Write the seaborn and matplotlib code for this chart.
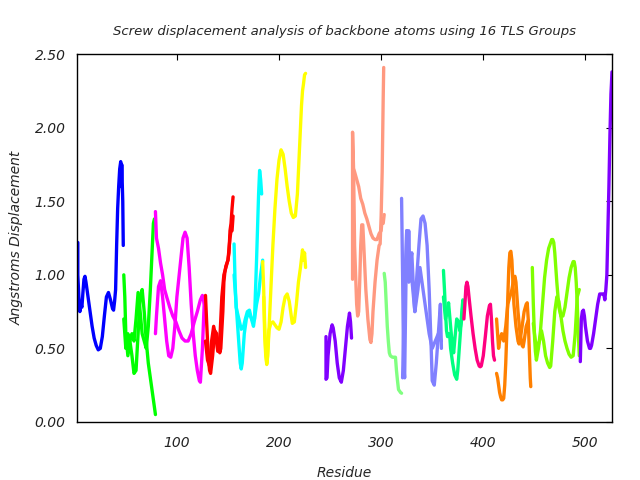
import numpy as np
import pandas as pd
import matplotlib
matplotlib.use("Agg")
import matplotlib.pyplot as plt
import seaborn as sns

# ---- data: (group colour, residue list, displacement list) per trace ----
blue_x = [3, 3, 4, 5, 6, 7, 8, 9, 10, 11, 13, 15, 17, 19, 21, 23, 25, 27, 29, 31, 33, 35, 37, 38, 39, 40, 41, 42, 43, 44, 45, 45.5, 46, 47, 47.5]
blue_y = [1.22, 1.0, 0.85, 0.75, 0.8, 0.78, 0.88, 0.97, 0.99, 0.95, 0.85, 0.75, 0.65, 0.57, 0.52, 0.49, 0.5, 0.58, 0.72, 0.85, 0.88, 0.83, 0.77, 0.76, 0.82, 0.9, 1.2, 1.45, 1.6, 1.72, 1.77, 1.6, 1.75, 1.5, 1.2]

green_a_x = [48, 49, 50, 52, 54, 56, 58, 60, 62, 64, 66, 68, 70, 72, 74, 76, 78, 79]
green_a_y = [1.0, 0.85, 0.6, 0.45, 0.55, 0.45, 0.33, 0.35, 0.6, 0.85, 0.9, 0.75, 0.55, 0.4, 0.3, 0.2, 0.1, 0.05]
green_b_x = [48, 50, 52, 54, 56, 58, 60, 62, 64, 66, 68, 70, 72, 74, 76, 77, 78]
green_b_y = [0.7, 0.5, 0.6, 0.55, 0.6, 0.55, 0.7, 0.88, 0.75, 0.6, 0.55, 0.5, 0.65, 0.9, 1.2, 1.35, 1.38]

magenta_a_x = [79, 80, 82, 84, 86, 88, 90, 93, 96, 99, 102, 105, 108, 111, 114, 117, 120, 123, 125, 127]
magenta_a_y = [1.43, 1.25, 1.18, 1.08, 1.0, 0.9, 0.85, 0.78, 0.72, 0.68, 0.62, 0.57, 0.55, 0.55, 0.6, 0.68, 0.75, 0.83, 0.86, 0.8]
magenta_b_x = [79, 80, 82, 84, 86, 88, 90, 92, 94, 96, 98, 100, 103, 106, 108, 110, 112, 114, 116, 118, 120, 122, 123, 125, 127]
magenta_b_y = [0.6, 0.72, 0.92, 0.96, 0.85, 0.7, 0.55, 0.45, 0.44, 0.5, 0.65, 0.85, 1.05, 1.25, 1.29, 1.25, 1.05, 0.8, 0.6, 0.45, 0.35, 0.28, 0.27, 0.5, 0.85]

red_a_x = [128, 129, 130, 131, 132, 133, 135, 137, 139, 141, 142, 143, 145, 146, 147, 148, 149, 150, 151, 152, 153, 154, 155]
red_a_y = [0.86, 0.7, 0.55, 0.42, 0.35, 0.33, 0.45, 0.62, 0.6, 0.5, 0.47, 0.5, 0.75, 0.95, 1.02, 1.06, 1.08, 1.1, 1.15, 1.3, 1.35, 1.45, 1.53]
red_b_x = [128, 130, 132, 134, 136, 138, 140, 142, 144, 146, 148, 150, 152, 153, 154, 155]
red_b_y = [0.55, 0.42, 0.38, 0.55, 0.65, 0.58, 0.48, 0.55, 0.85, 1.0, 1.05, 1.1, 1.25, 1.3, 1.3, 1.4]

cyan_a_x = [156, 157, 158, 160, 162, 163, 165, 167, 169, 171, 173, 175, 176, 178, 180, 181, 182, 183]
cyan_a_y = [1.21, 0.95, 0.78, 0.72, 0.66, 0.63, 0.64, 0.7, 0.75, 0.76, 0.7, 0.65, 0.7, 1.1, 1.55, 1.71, 1.65, 1.55]
cyan_b_x = [156, 158, 160, 162, 163, 164, 166, 168, 170, 172, 174, 176, 178, 180, 182, 184]
cyan_b_y = [1.0, 0.8, 0.6, 0.4, 0.36, 0.4, 0.6, 0.7, 0.74, 0.72, 0.69, 0.7, 0.8, 0.87, 1.0, 1.1]

yellow_a_x = [184, 185, 186, 187, 188, 189, 190, 192, 194, 196, 198, 200, 202, 204, 206, 208, 210, 212, 214, 216, 218, 219, 220, 221, 222, 223, 224, 225, 226]
yellow_a_y = [1.09, 0.9, 0.65, 0.48, 0.4, 0.45, 0.6, 0.9, 1.2, 1.45, 1.65, 1.78, 1.85, 1.82, 1.72, 1.6, 1.5, 1.42, 1.39, 1.4, 1.55, 1.7, 1.85, 2.0, 2.15, 2.25, 2.3, 2.36, 2.37]
yellow_b_x = [185, 186, 187, 188, 189, 190, 192, 194, 196, 198, 200, 202, 204, 206, 208, 210, 212, 213, 215, 217, 219, 221, 223, 224, 225, 226]
yellow_b_y = [0.85, 0.58, 0.45, 0.39, 0.5, 0.62, 0.67, 0.68, 0.66, 0.64, 0.63, 0.68, 0.78, 0.85, 0.87, 0.82, 0.72, 0.67, 0.68, 0.8, 0.95, 1.05, 1.17, 1.1, 1.15, 1.05]

purple_x = [246, 246, 247, 248, 250, 252, 253, 255, 257, 259, 261, 263, 265, 267, 269, 270, 271]
purple_y = [0.58, 0.29, 0.3, 0.45, 0.6, 0.66, 0.64, 0.55, 0.4, 0.3, 0.27, 0.35, 0.5, 0.65, 0.74, 0.68, 0.57]

salmon_a_x = [272, 272, 273, 274, 276, 278, 280, 282, 284, 286, 288, 290, 292, 294, 296, 298, 300, 301, 302, 303]
salmon_a_y = [0.97, 1.97, 1.72, 1.7, 1.65, 1.6, 1.52, 1.48, 1.42, 1.38, 1.33, 1.28, 1.25, 1.24, 1.24, 1.28, 1.3, 1.38, 1.35, 1.41]
salmon_b_x = [273, 274, 275, 276, 277, 278, 279, 280, 281, 282, 283, 285, 287, 289, 290, 291, 292, 294, 296, 298, 299, 300, 301, 302, 302.5]
salmon_b_y = [1.72, 1.2, 1.0, 0.8, 0.72, 0.75, 0.95, 1.2, 1.34, 1.34, 1.2, 0.9, 0.7, 0.56, 0.54, 0.6, 0.75, 0.95, 1.1, 1.2, 1.21, 1.4, 1.7, 2.2, 2.41]

lgreen_x = [303, 304, 305, 306, 307, 308, 309, 311, 313, 314, 315, 316, 317, 318, 319, 320]
lgreen_y = [1.01, 0.95, 0.8, 0.65, 0.55, 0.47, 0.45, 0.44, 0.44, 0.44, 0.35, 0.28, 0.22, 0.21, 0.2, 0.195]

peri_a_x = [320, 321, 322, 323, 325, 326, 327, 328, 330, 332, 333, 335, 337, 339, 341, 343, 345, 347, 349, 350, 352, 354, 356, 358, 359]
peri_a_y = [1.52, 1.0, 0.4, 0.3, 1.3, 1.0, 1.3, 1.05, 1.15, 0.85, 0.75, 1.0, 1.2, 1.38, 1.4, 1.35, 1.2, 0.9, 0.5, 0.28, 0.25, 0.4, 0.6, 0.8, 0.5]
peri_b_x = [321, 323, 325, 327, 329, 331, 333, 336, 338, 341, 344, 347, 350, 353, 356, 359]
peri_b_y = [0.3, 0.9, 1.3, 0.95, 1.05, 0.9, 0.75, 0.9, 1.05, 0.9, 0.75, 0.6, 0.5, 0.55, 0.6, 0.55]

spring_a_x = [361, 362, 363, 364, 365, 366, 367, 368, 370, 372, 374, 375, 377, 379, 380, 381]
spring_a_y = [1.03, 0.9, 0.75, 0.62, 0.58, 0.6, 0.6, 0.5, 0.4, 0.32, 0.29, 0.35, 0.55, 0.75, 0.83, 0.8]
spring_b_x = [361, 363, 365, 366, 368, 370, 371, 372, 374, 376, 377, 379, 380]
spring_b_y = [0.85, 0.7, 0.75, 0.81, 0.65, 0.5, 0.47, 0.55, 0.7, 0.68, 0.62, 0.7, 0.8]

pink_x = [381, 382, 383, 384, 385, 386, 388, 390, 392, 394, 396, 397, 398, 400, 402, 404, 406, 407, 408, 409, 410, 411]
pink_y = [0.7, 0.8, 0.92, 0.95, 0.92, 0.85, 0.72, 0.6, 0.5, 0.42, 0.38, 0.375, 0.38, 0.45, 0.58, 0.72, 0.79, 0.8, 0.7, 0.55, 0.45, 0.42]

orange_a_x = [413, 414, 415, 416, 417, 418, 419, 420, 421, 422, 423, 424, 425, 426, 427, 428, 429, 430, 432, 434, 435, 436, 438, 440, 442, 443, 444, 445, 446, 446.5]
orange_a_y = [0.33, 0.3, 0.25, 0.2, 0.17, 0.15, 0.15, 0.16, 0.25, 0.4, 0.6, 0.85, 1.05, 1.15, 1.16, 1.1, 0.95, 0.8, 0.65, 0.55, 0.53, 0.55, 0.65, 0.75, 0.8, 0.81, 0.7, 0.5, 0.3, 0.24]
orange_b_x = [413, 414, 415, 416, 418, 420, 422, 424, 426, 428, 430, 431, 432, 434, 436, 438, 439, 440, 442, 444]
orange_b_y = [0.7, 0.6, 0.5, 0.55, 0.6, 0.55, 0.65, 0.8, 0.85, 0.9, 0.98, 0.99, 0.95, 0.75, 0.6, 0.52, 0.51, 0.55, 0.65, 0.69]

chart_a_x = [448, 449, 450, 451, 452, 454, 456, 458, 460, 462, 464, 466, 467, 468, 469, 470, 472, 474, 476, 478, 480, 482, 484, 486, 488, 489, 490, 491, 492, 493, 494]
chart_a_y = [1.05, 0.8, 0.6, 0.48, 0.42, 0.5, 0.62, 0.8, 0.98, 1.1, 1.18, 1.22, 1.24, 1.24, 1.22, 1.15, 0.95, 0.78, 0.72, 0.72, 0.78, 0.88, 0.98, 1.05, 1.09, 1.09, 1.05, 0.95, 0.8, 0.6, 0.45]
chart_b_x = [449, 451, 453, 455, 457, 459, 461, 463, 465, 466, 468, 470, 472, 474, 476, 478, 480, 482, 484, 486, 488, 490, 492, 494]
chart_b_y = [0.67, 0.55, 0.5, 0.55, 0.62, 0.55, 0.45, 0.4, 0.37, 0.38, 0.55, 0.75, 0.85, 0.82, 0.72, 0.62, 0.55, 0.5, 0.46, 0.44, 0.45, 0.6, 0.85, 0.9]

violet_x = [495, 495.5, 496, 497, 498, 499, 500, 502, 504, 505, 506, 508, 510, 512, 514, 516, 518, 519, 520, 521, 522, 523, 524, 525, 525.5, 526]
violet_y = [0.41, 0.55, 0.7, 0.75, 0.76, 0.72, 0.65, 0.55, 0.5, 0.5, 0.52, 0.6, 0.7, 0.8, 0.87, 0.87, 0.87, 0.83, 0.9, 1.0, 1.3, 1.6, 1.95, 2.23, 2.3, 2.38]

traces = [
    ("#0000ff", blue_x, blue_y),
    ("#00ff00", green_a_x, green_a_y), ("#00ff00", green_b_x, green_b_y),
    ("#ff00ff", magenta_a_x, magenta_a_y), ("#ff00ff", magenta_b_x, magenta_b_y),
    ("#ff0000", red_a_x, red_a_y), ("#ff0000", red_b_x, red_b_y),
    ("#00ffff", cyan_a_x, cyan_a_y), ("#00ffff", cyan_b_x, cyan_b_y),
    ("#ffff00", yellow_a_x, yellow_a_y), ("#ffff00", yellow_b_x, yellow_b_y),
    ("#8000ff", purple_x, purple_y),
    ("#ff9980", salmon_a_x, salmon_a_y), ("#ff9980", salmon_b_x, salmon_b_y),
    ("#80ff80", lgreen_x, lgreen_y),
    ("#8080ff", peri_a_x, peri_a_y), ("#8080ff", peri_b_x, peri_b_y),
    ("#00ff80", spring_a_x, spring_a_y), ("#00ff80", spring_b_x, spring_b_y),
    ("#ff0080", pink_x, pink_y),
    ("#ff8000", orange_a_x, orange_a_y), ("#ff8000", orange_b_x, orange_b_y),
    ("#80ff00", chart_a_x, chart_a_y), ("#80ff00", chart_b_x, chart_b_y),
    ("#8000ff", violet_x, violet_y),
]

rows = []
palette = {}
for i, (col, xs, ys) in enumerate(traces):
    key = f"t{i}"
    palette[key] = col
    for x, y in zip(xs, ys):
        rows.append((x, y, key))
df = pd.DataFrame(rows, columns=["residue", "disp", "trace"])

sns.set_style("white")
plt.rcParams["font.family"] = ["DejaVu Sans"]

fig = plt.figure(figsize=(6.4, 4.8), dpi=100)
ax = fig.add_axes([0.12, 0.121, 0.837, 0.766])
sns.lineplot(data=df, x="residue", y="disp", hue="trace", palette=palette,
             estimator=None, sort=False, legend=False, linewidth=2.4, ax=ax)

ax.set_xlim(2, 526.5)
ax.set_ylim(0, 2.5)
ax.set_xticks([100, 200, 300, 400, 500])
ax.set_yticks([0, 0.5, 1.0, 1.5, 2.0, 2.5])
ax.set_yticklabels([f"{v:.2f}" for v in [0, 0.5, 1.0, 1.5, 2.0, 2.5]])
for s in ax.spines.values():
    s.set_color("black")
    s.set_linewidth(1.0)
ax.tick_params(direction="in", length=4, width=0.8, top=True, right=True,
               labelsize=10, pad=8, colors="black")
ax.tick_params(axis="x", pad=10)
for lab in ax.get_xticklabels() + ax.get_yticklabels():
    lab.set_fontstyle("italic")
    lab.set_color("#222222")

ax.set_xlabel("Residue", fontsize=10, fontstyle="italic", labelpad=12)
ax.set_ylabel("Angstroms Displacement", fontsize=10, fontstyle="italic", labelpad=8)
ax.set_title("Screw displacement analysis of backbone atoms using 16 TLS Groups",
             fontsize=9.5, fontstyle="italic", pad=14)

fig.savefig("out.png", dpi=100)
